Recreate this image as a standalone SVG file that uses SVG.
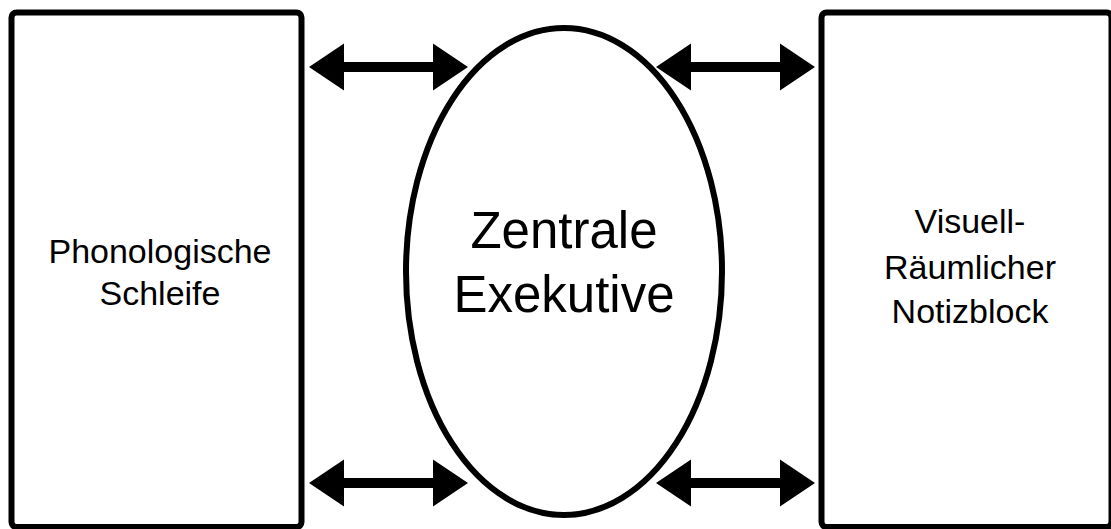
<svg xmlns="http://www.w3.org/2000/svg" xmlns:xlink="http://www.w3.org/1999/xlink" width="1111" height="529" viewBox="0 0 1111 529">
  <style>
    .box { fill: #ffffff; stroke: #000000; stroke-width: 6; }
    .label { font-family: "Liberation Sans", Arial, Helvetica, sans-serif; fill: #000000; text-anchor: middle; }
    .arrow { fill: #000000; stroke: none; }
  </style>
  <defs>
    <!-- double-headed arrow, 159 px tip to tip, centred on its own axis -->
    <path id="dbl" d="M0,0 L35,-23.5 L35,-5 L124,-5 L124,-23.5 L159,0 L124,23.5 L124,5 L35,5 L35,23.5 Z"/>
  </defs>
  <rect width="1111" height="529" fill="#ffffff"/>

  <g id="phonologische-schleife">
    <rect class="box" x="11.5" y="12.5" width="290" height="514.5" rx="5"/>
    <text class="label" font-size="34" x="160" y="263">Phonologische</text>
    <text class="label" font-size="34" x="160" y="305">Schleife</text>
  </g>

  <g id="zentrale-exekutive">
    <ellipse class="box" cx="564" cy="271.5" rx="158" ry="243.5"/>
    <text class="label" font-size="51" x="564" y="248">Zentrale</text>
    <text class="label" font-size="51" x="564" y="312">Exekutive</text>
  </g>

  <g id="visuell-raeumlicher-notizblock">
    <rect class="box" x="821.5" y="12.5" width="290" height="514.5" rx="5"/>
    <text class="label" font-size="34" x="970" y="233">Visuell-</text>
    <text class="label" font-size="34" x="970" y="279">Räumlicher</text>
    <text class="label" font-size="34" x="970" y="323">Notizblock</text>
  </g>

  <g id="connectors" class="arrow">
    <use xlink:href="#dbl" x="309" y="67"/>
    <use xlink:href="#dbl" x="309" y="483"/>
    <use xlink:href="#dbl" x="656" y="67"/>
    <use xlink:href="#dbl" x="656" y="483"/>
  </g>
</svg>
